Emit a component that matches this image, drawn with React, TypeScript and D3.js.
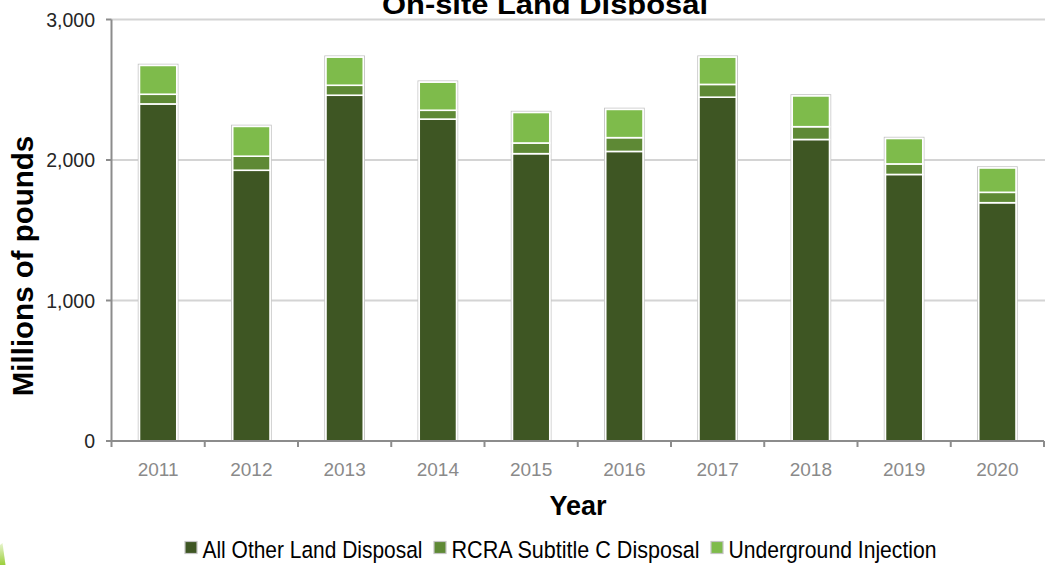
import React from "react";
import * as d3 from "d3";

const years = ["2011", "2012", "2013", "2014", "2015", "2016", "2017", "2018", "2019", "2020"];
const allOtherLandDisposal = [2399, 1927, 2461, 2291, 2045, 2061, 2447, 2146, 1897, 1696];
const rcraSubtitleC = [69, 100, 71, 63, 76, 98, 91, 91, 75, 74];
const undergroundInjection = [205, 212, 200, 200, 217, 201, 194, 219, 181, 173];
const seriesNames = ["All Other Land Disposal", "RCRA Subtitle C Disposal", "Underground Injection"];
const seriesColors = ["#3E5623", "#5E8935", "#7EBB4B"];
const yTicks = [0, 1000, 2000, 3000];
const titleText = "On-site Land Disposal";
const xTitle = "Year";
const yTitle = "Millions of pounds";

const W = 1045;
const H = 565;
const FONT = "'Liberation Sans', Arial, Helvetica, sans-serif";

export default function App() {
  const left = 111.5;
  const right = 1044;
  const x = d3.scaleBand<string>().domain(years).range([left, right]).padding(0);
  const y = d3.scaleLinear().domain([0, 3000]).range([441, 19.5]);

  const rows = years.map((yr, i) => ({
    year: yr,
    a: allOtherLandDisposal[i],
    b: rcraSubtitleC[i],
    c: undergroundInjection[i],
  }));
  const stack = d3.stack<any>().keys(["a", "b", "c"]);
  const layers = stack(rows);

  const bw = x.bandwidth() * 0.4;
  const fmt = d3.format(",");

  const legendTextX = [202.5, 451.5, 728.5];
  const legendTextW = [220, 248, 208];

  return (
    <svg
      width={W}
      height={H}
      style={{ position: "absolute", left: 0, top: 0, background: "#fff" }}
      fontFamily={FONT}
    >
      <defs>
        <clipPath id="titleClip">
          <rect x={0} y={0} width={W} height={14.5} />
        </clipPath>
        <linearGradient id="deco" x1="0" y1="1" x2="0" y2="0">
          <stop offset="0" stopColor="#9ccf3c" />
          <stop offset="1" stopColor="#e8f5cf" />
        </linearGradient>
      </defs>

      {/* title (cropped at the top edge, as in the source) */}
      <g clipPath="url(#titleClip)">
        <text
          x={545}
          y={14}
          textAnchor="middle"
          fontWeight="bold"
          fontSize={28}
          textLength={326}
          lengthAdjust="spacingAndGlyphs"
          fill="#000"
        >
          {titleText}
        </text>
      </g>

      {/* gridlines */}
      {yTicks.filter((t) => t > 0).map((t) => (
        <line key={t} x1={left} x2={W} y1={y(t)} y2={y(t)} stroke="#d4d4d4" strokeWidth={2} />
      ))}

      {/* y axis */}
      <line x1={left} x2={left} y1={y(3000)} y2={y(0)} stroke="#8c8c8c" strokeWidth={2} />
      {yTicks.map((t) => (
        <g key={t}>
          <line x1={106} x2={left} y1={y(t)} y2={y(t)} stroke="#8c8c8c" strokeWidth={2} />
          <text x={95} y={y(t)} dy="0.36em" textAnchor="end" fontSize={19.5} fill="#262626">
            {fmt(t)}
          </text>
        </g>
      ))}

      {/* bars */}
      {rows.map((r, i) => {
        const cx = (x(r.year) as number) + x.bandwidth() / 2;
        const top = layers[2][i][1];
        return (
          <rect
            key={"o" + r.year}
            x={cx - bw / 2 - 1.2}
            y={y(top) - 1.2}
            width={bw + 2.4}
            height={y(0) - y(top) + 1.2}
            fill="#fff"
            stroke="#c4c4c4"
            strokeWidth={1}
          />
        );
      })}
      {layers.map((layer, li) =>
        layer.map((d, i) => {
          const cx = (x(years[i]) as number) + x.bandwidth() / 2;
          return (
            <rect
              key={li + "-" + i}
              x={cx - bw / 2}
              y={y(d[1])}
              width={bw}
              height={y(d[0]) - y(d[1])}
              fill={seriesColors[li]}
              stroke="#fff"
              strokeWidth={1.6}
            />
          );
        })
      )}

      {/* x axis */}
      <line x1={left} x2={right} y1={y(0)} y2={y(0)} stroke="#8c8c8c" strokeWidth={2} />
      {[...years.map((yr) => x(yr) as number), right].map((px, i) => (
        <line key={"xt" + i} x1={px} x2={px} y1={y(0)} y2={447} stroke="#8c8c8c" strokeWidth={2} />
      ))}
      {years.map((yr) => (
        <text
          key={"xl" + yr}
          x={(x(yr) as number) + x.bandwidth() / 2}
          y={476}
          textAnchor="middle"
          fontSize={19}
          fill="#8a8a8a"
        >
          {yr}
        </text>
      ))}

      {/* axis titles */}
      <text x={578} y={515} textAnchor="middle" fontWeight="bold" fontSize={27} fill="#000">
        {xTitle}
      </text>
      <text
        transform={`translate(33,266) rotate(-90)`}
        textAnchor="middle"
        fontWeight="bold"
        fontSize={29.5}
        fill="#000"
      >
        {yTitle}
      </text>

      {/* legend */}
      {seriesNames.map((name, i) => (
        <g key={name}>
          <rect
            x={legendTextX[i] - 17.5}
            y={541.5}
            width={12}
            height={12}
            fill={seriesColors[i]}
            stroke="#c4c4c4"
            strokeWidth={1.2}
          />
          <text
            x={legendTextX[i]}
            y={557.5}
            fontSize={24.5}
            fill="#000"
            textLength={legendTextW[i]}
            lengthAdjust="spacingAndGlyphs"
          >
            {name}
          </text>
        </g>
      ))}

      {/* decorative corner wedge */}
      <path d="M0,565 L0,545 L2.5,543 L5.5,565 Z" fill="url(#deco)" />
    </svg>
  );
}
